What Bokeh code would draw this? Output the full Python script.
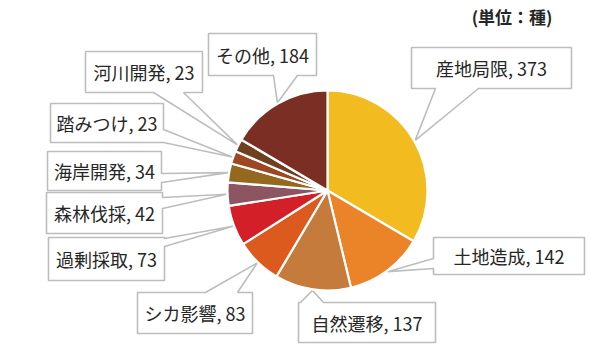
import numpy as np
from bokeh.plotting import figure
from bokeh.models import Range1d, ColumnDataSource
from bokeh.core.properties import value
from bokeh.embed import file_html
from bokeh.resources import INLINE

# ---- data ----
categories = ["産地局限", "土地造成", "自然遷移", "シカ影響", "過剰採取",
              "森林伐採", "海岸開発", "踏みつけ", "河川開発", "その他"]
counts = [373, 142, 137, 83, 73, 42, 34, 23, 23, 184]
unit_label = "(単位：種)"

colors = ["#F2BB20", "#EB8328", "#C57B3B", "#DD5A1F", "#D31F28",
          "#8D5461", "#94691F", "#9E4823", "#6E401F", "#7B2E23"]

# ---- layout (pixel coords, y down) ----
W, H = 600, 353
CX, CY, R = 327, 190, 100
# box x0, y0, x1, y1, side of pointer, base start, base end
boxes = [
    (411, 47, 571, 88, "bottom", 435, 478),
    (433, 237, 584, 274, "left", 258, 268),
    (298, 302, 435, 342, "top", 300, 323),
    (137, 292, 252, 333, "top", 205, 237),
    (48, 237, 164, 280, "right", 238, 246),
    (46, 192, 162, 233, "right", 197, 208),
    (47, 151, 161, 190, "right", 173, 182),
    (50, 103, 163, 142, "right", 129, 142),
    (85, 51, 202, 92, "bottom", 153, 183),
    (208, 33, 316, 75, "bottom", 273, 297),
]

vals = np.array(counts, dtype=float)
frac = vals / vals.sum()
cum_end = np.cumsum(frac)
cum_start = cum_end - frac
mid = (cum_start + cum_end) / 2 * 2 * np.pi  # clockwise from top

p = figure(width=W, height=H, x_range=Range1d(0, W), y_range=Range1d(0, H),
           output_backend="svg", toolbar_location=None, min_border=0)
p.axis.visible = False
p.grid.visible = False
p.outline_line_color = None
p.background_fill_color = "white"

def Y(y):
    return H - y

# callouts
xs_list, ys_list = [], []
for i, (x0, y0, x1, y1, side, b1, b2) in enumerate(boxes):
    tx = CX + (R + 1) * np.sin(mid[i])
    ty = CY - (R + 1) * np.cos(mid[i])
    if side == "bottom":
        pts = [(x0, y0), (x1, y0), (x1, y1), (b2, y1), (tx, ty), (b1, y1), (x0, y1)]
    elif side == "top":
        pts = [(x0, y0), (b1, y0), (tx, ty), (b2, y0), (x1, y0), (x1, y1), (x0, y1)]
    elif side == "right":
        pts = [(x0, y0), (x1, y0), (x1, b1), (tx, ty), (x1, b2), (x1, y1), (x0, y1)]
    else:
        pts = [(x0, y0), (x1, y0), (x1, y1), (x0, y1), (x0, b2), (tx, ty), (x0, b1)]
    xs_list.append([pt[0] for pt in pts])
    ys_list.append([Y(pt[1]) for pt in pts])

p.patches(xs_list, ys_list, fill_color="white", line_color="#BDBDBD", line_width=1.6)

# pie
src = ColumnDataSource(dict(
    start=np.pi / 2 - cum_end * 2 * np.pi,
    end=np.pi / 2 - cum_start * 2 * np.pi,
    color=colors,
))
p.wedge(x=CX, y=Y(CY), radius=R, start_angle="start", end_angle="end",
        fill_color="color", line_color="white", line_width=2.2, source=src)

# labels
lx = [(b[0] + b[2]) / 2 for b in boxes]
ly = [Y((b[1] + b[3]) / 2) for b in boxes]
texts = [f"{c}, {v}" for c, v in zip(categories, counts)]
p.text(x=lx, y=ly, text=texts, text_align="center", text_baseline="middle",
       text_font=value("Noto Sans CJK JP"), text_font_size="18px", text_color="#262626")

p.text(x=[552], y=[Y(16)], text=[unit_label], text_align="right", text_baseline="middle",
       text_font=value("Noto Sans CJK JP"), text_font_size="17px", text_font_style="bold",
       text_color="#262626")

open("out.html", "w").write(file_html(p, INLINE))
